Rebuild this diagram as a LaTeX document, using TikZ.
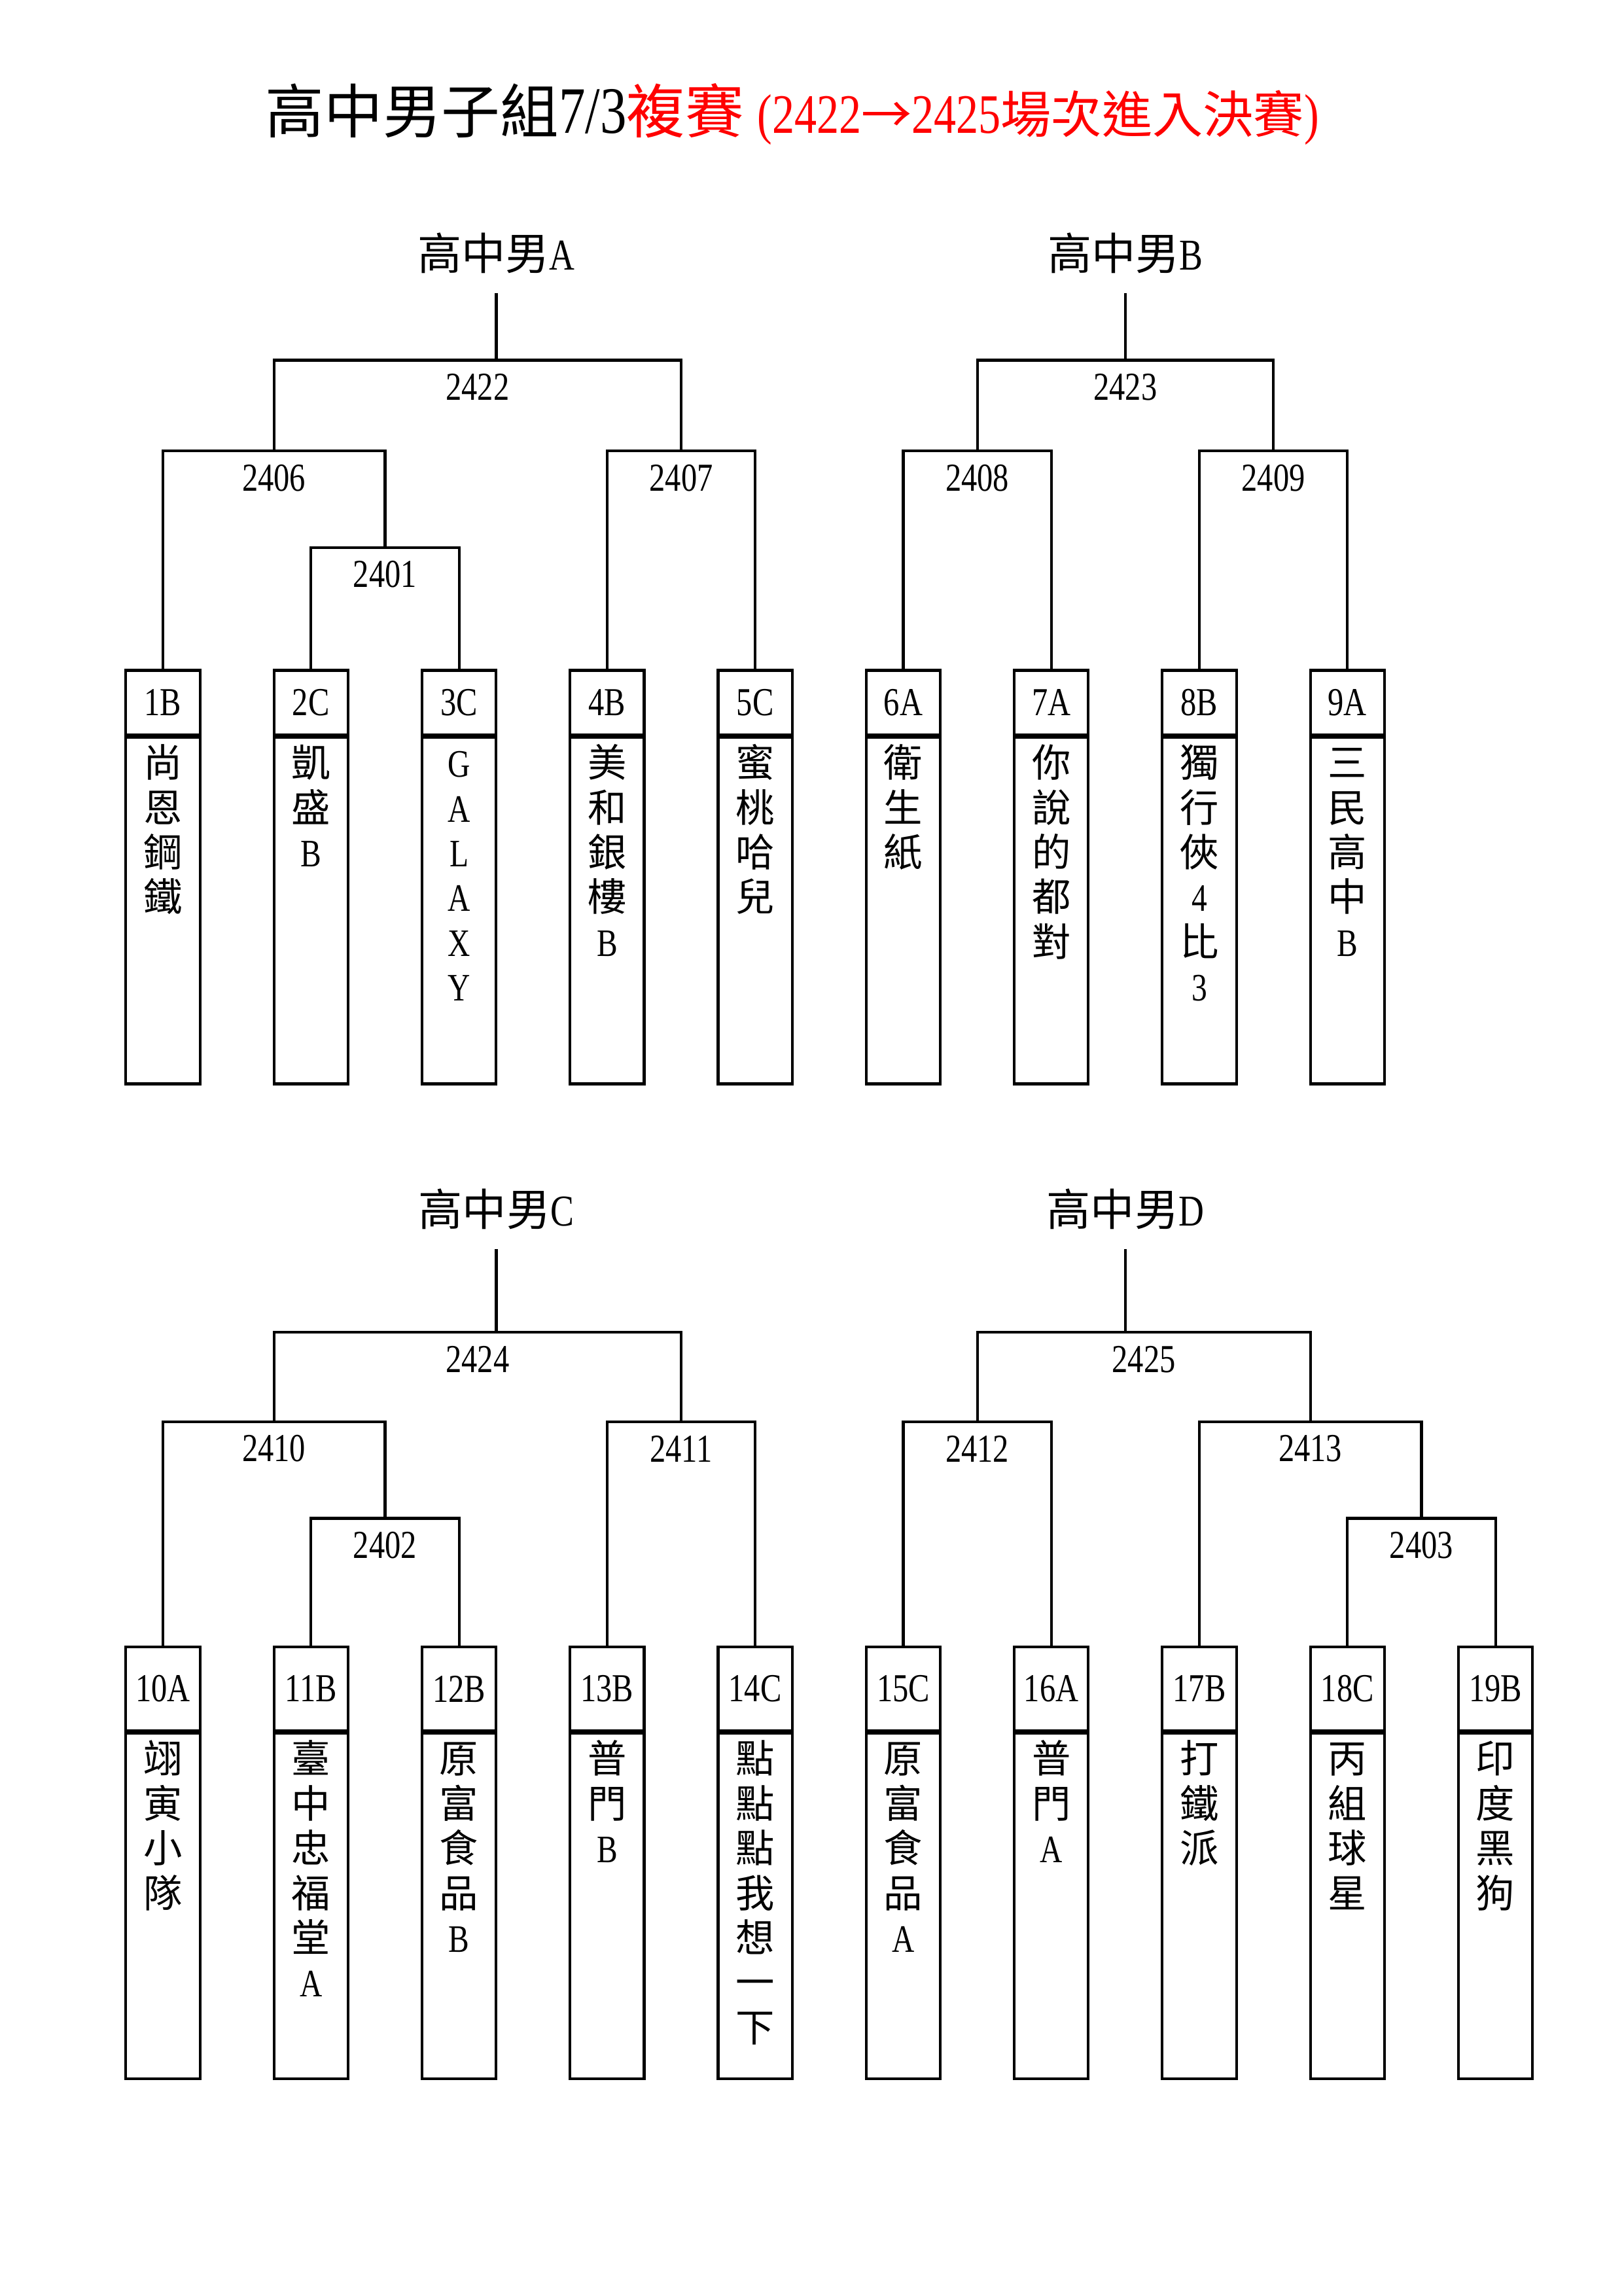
\documentclass[tikz,border=0pt]{standalone}
\usepackage{fontspec}
\setmainfont{Liberation Serif}[FakeStretch=0.8]
\newfontfamily\cjkf{Noto Sans CJK TC}
\newcommand\C[1]{{\cjkf #1}}
\newcommand\lat[1]{{\rmfamily #1}}
\newcommand\pxu{0.54015pt}
\tikzset{
  ln/.style={line width=1pt},
  boxbase/.style={draw, line width=1pt, rectangle, inner sep=0pt, minimum width=50.5*\pxu, anchor=north},
  hdrT/.style={boxbase, minimum height=43.8*\pxu, font=\fontsize{14.6pt}{16.5pt}\selectfont},
  hdrB/.style={boxbase, minimum height=56.8*\pxu, font=\fontsize{14.6pt}{16.5pt}\selectfont},
  bodyT/.style={boxbase, minimum height=236.2*\pxu},
  bodyB/.style={boxbase, minimum height=235.7*\pxu},
  names/.style={anchor=north, inner sep=0pt, align=center, font=\cjkf\fontsize{14.3pt}{16.47pt}\selectfont},
  num/.style={inner sep=0pt, font=\fontsize{14.6pt}{16.5pt}\selectfont},
  grp/.style={inner sep=0pt, font=\fontsize{16.2pt}{19pt}\selectfont},
  ttl/.style={inner sep=0pt, font=\fontsize{24.4pt}{28pt}\selectfont}
}
\newcommand\team[6]{%
  \node[hdr#4] (h#1) at (#2,#3) {#5};
  \node[body#4] (b#1) at (h#1.south) {};
  \node[names] (n#1) at ([yshift=-3.7*\pxu]b#1.north) {\rule{0pt}{13pt}#6};
}
\newcommand\match[3]{%
  \coordinate (m#1) at (#2,#3);
  \node[num] (l#1) at ([yshift=-18.3*\pxu]m#1) {#1};
}
\newcommand\bigC[1]{{\cjkf\fontsize{21.6pt}{26pt}\selectfont #1}}
\newcommand\smC[1]{{\cjkf\fontsize{18.6pt}{22pt}\selectfont #1}}
\begin{document}
\begin{tikzpicture}[x=0.019039cm, y=-0.019039cm]
\useasboundingbox (0,0) rectangle (1103,1560);

% title
\node[ttl] (title) at (538.3,77.6) {\bigC{高中男子組}7/3\textcolor{red}{\bigC{複賽}{\fontsize{20.5pt}{24pt}\selectfont\hspace{4.9pt}(2422\smC{→}2425\smC{場次進入決賽})}}};

% group labels
\node[grp] (gA) at (337.2,172.1) {\C{高中男}A};
\node[grp] (gB) at (764.6,172.1) {\C{高中男}B};
\node[grp] (gC) at (337.2,821.7) {\C{高中男}C};
\node[grp] (gD) at (764.6,821.7) {\C{高中男}D};
\coordinate (sA) at (337.2,199);
\coordinate (sB) at (764.6,199);
\coordinate (sC) at (337.2,848.6);
\coordinate (sD) at (764.6,848.6);

% top teams
\team{1}{110.7}{454.5}{T}{1B}{尚\\恩\\鋼\\鐵}
\team{2}{211.3}{454.5}{T}{2C}{凱\\盛\\\lat{B}}
\team{3}{311.9}{454.5}{T}{3C}{\lat{G}\\\lat{A}\\\lat{L}\\\lat{A}\\\lat{X}\\\lat{Y}}
\team{4}{412.5}{454.5}{T}{4B}{美\\和\\銀\\樓\\\lat{B}}
\team{5}{513.1}{454.5}{T}{5C}{蜜\\桃\\哈\\兒}
\team{6}{613.7}{454.5}{T}{6A}{衛\\生\\紙}
\team{7}{714.3}{454.5}{T}{7A}{你\\說\\的\\都\\對}
\team{8}{814.9}{454.5}{T}{8B}{獨\\行\\俠\\\lat{4}\\比\\\lat{3}}
\team{9}{915.5}{454.5}{T}{9A}{三\\民\\高\\中\\\lat{B}}

% bottom teams
\team{10}{110.7}{1118.2}{B}{10A}{翊\\寅\\小\\隊}
\team{11}{211.3}{1118.2}{B}{11B}{臺\\中\\忠\\福\\堂\\\lat{A}}
\team{12}{311.9}{1118.2}{B}{12B}{原\\富\\食\\品\\\lat{B}}
\team{13}{412.5}{1118.2}{B}{13B}{普\\門\\\lat{B}}
\team{14}{513.1}{1118.2}{B}{14C}{點\\點\\點\\我\\想\\一\\下}
\team{15}{613.7}{1118.2}{B}{15C}{原\\富\\食\\品\\\lat{A}}
\team{16}{714.3}{1118.2}{B}{16A}{普\\門\\\lat{A}}
\team{17}{814.9}{1118.2}{B}{17B}{打\\鐵\\派}
\team{18}{915.5}{1118.2}{B}{18C}{丙\\組\\球\\星}
\team{19}{1016.1}{1118.2}{B}{19B}{印\\度\\黑\\狗}

% matches top
\match{2401}{261.6}{372.1}
\match{2406}{186.15}{306.4}
\match{2407}{462.8}{306.4}
\match{2422}{324.5}{244.7}
\match{2408}{664}{306.4}
\match{2409}{865.2}{306.4}
\match{2423}{764.6}{244.7}
% matches bottom
\match{2402}{261.6}{1031.6}
\match{2410}{186.15}{966}
\match{2411}{462.8}{966}
\match{2424}{324.5}{905.3}
\match{2412}{664}{966}
\match{2403}{965.8}{1031.6}
\match{2413}{890.35}{966}
\match{2425}{777.2}{905.3}

% brackets group A
\draw[ln] (h2.north) |- (m2401) -| (h3.north);
\draw[ln] (h1.north) |- (m2406) -| (m2401);
\draw[ln] (h4.north) |- (m2407) -| (h5.north);
\draw[ln] (m2406) |- (m2422) -| (m2407);
\draw[ln] (sA) -- (sA |- m2422);
% group B
\draw[ln] (h6.north) |- (m2408) -| (h7.north);
\draw[ln] (h8.north) |- (m2409) -| (h9.north);
\draw[ln] (m2408) |- (m2423) -| (m2409);
\draw[ln] (sB) -- (sB |- m2423);
% group C
\draw[ln] (h11.north) |- (m2402) -| (h12.north);
\draw[ln] (h10.north) |- (m2410) -| (m2402);
\draw[ln] (h13.north) |- (m2411) -| (h14.north);
\draw[ln] (m2410) |- (m2424) -| (m2411);
\draw[ln] (sC) -- (sC |- m2424);
% group D
\draw[ln] (h15.north) |- (m2412) -| (h16.north);
\draw[ln] (h18.north) |- (m2403) -| (h19.north);
\draw[ln] (h17.north) |- (m2413) -| (m2403);
\draw[ln] (m2412) |- (m2425) -| (m2413);
\draw[ln] (sD) -- (sD |- m2425);
\end{tikzpicture}
\end{document}
